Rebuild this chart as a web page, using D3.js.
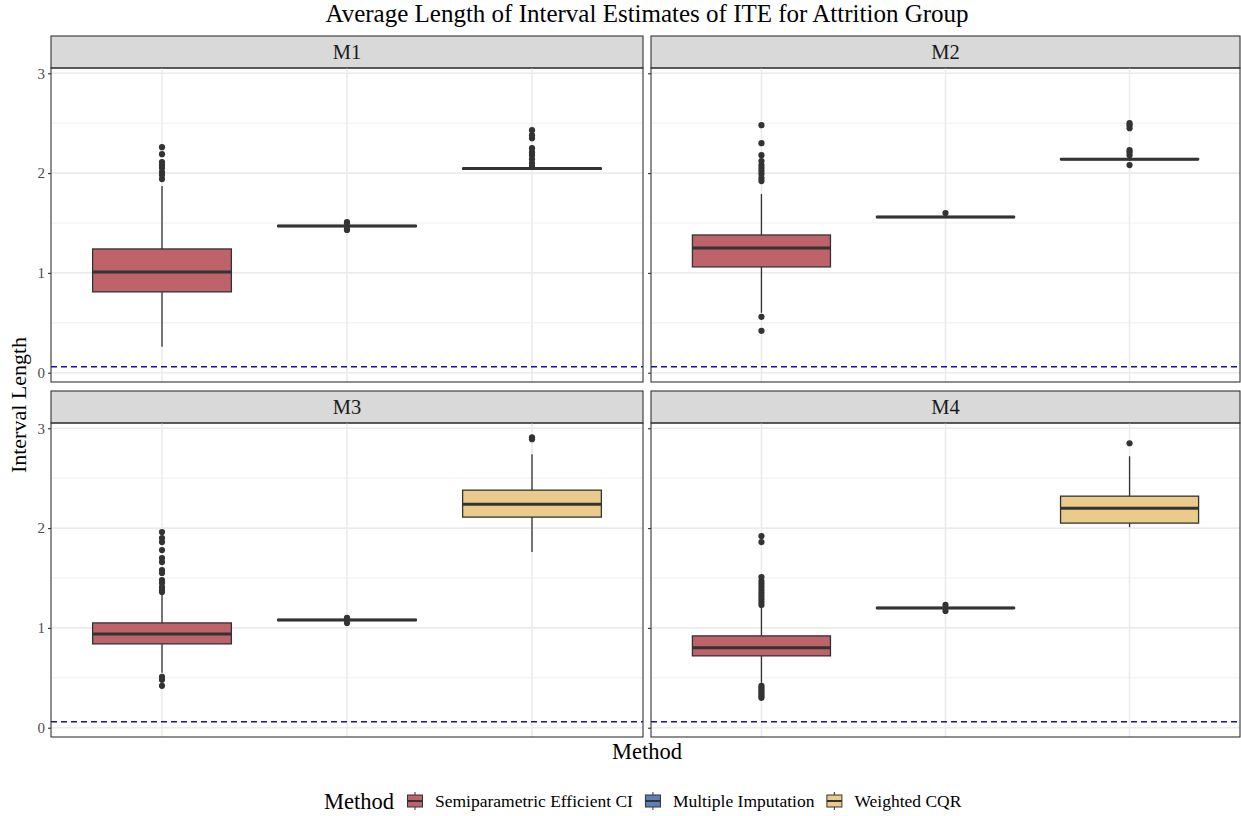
<!DOCTYPE html>
<html>
<head>
<meta charset="utf-8">
<title>Average Length of Interval Estimates</title>
<style>
  html, body { margin: 0; padding: 0; background: #fff; }
  svg { display: block; font-family: "Liberation Serif", "DejaVu Serif", serif; }
</style>
</head>
<body>
<svg id="chart" width="1241" height="816"></svg>
<script src="https://cdn.jsdelivr.net/npm/d3@7"></script>
<script>
// panels and methods
const panels = ["M1", "M2", "M3", "M4"];
const methods = ["Semiparametric Efficient CI", "Multiple Imputation", "Weighted CQR"];
const colors = ["#BF636B", "#5D80B8", "#EACB8B"];
const yTicks = [0, 1, 2, 3];
const refLine = 0.06;

// box stats per panel, one entry per method: [lowWhisker, q1, median, q3, highWhisker]
const statsM1 = [[0.26, 0.81, 1.01, 1.24, 1.87], [1.46, 1.465, 1.47, 1.475, 1.48], [2.03, 2.04, 2.045, 2.05, 2.06]];
const statsM2 = [[0.60, 1.06, 1.25, 1.38, 1.79], [1.55, 1.555, 1.56, 1.565, 1.57], [2.12, 2.135, 2.14, 2.145, 2.16]];
const statsM3 = [[0.55, 0.84, 0.94, 1.05, 1.34], [1.07, 1.075, 1.08, 1.085, 1.09], [1.76, 2.11, 2.24, 2.38, 2.74]];
const statsM4 = [[0.45, 0.72, 0.80, 0.92, 1.21], [1.19, 1.195, 1.20, 1.205, 1.21], [2.01, 2.05, 2.20, 2.32, 2.72]];

// outliers per panel, one list per method
const outM1 = [[1.94, 1.98, 2.01, 2.05, 2.08, 2.11, 2.19, 2.26],
               [1.43, 1.44, 1.50, 1.51],
               [2.07, 2.10, 2.14, 2.18, 2.21, 2.25, 2.35, 2.38, 2.43]];
const outM2 = [[0.42, 0.56, 1.92, 1.95, 1.99, 2.02, 2.05, 2.08, 2.12, 2.18, 2.30, 2.48],
               [1.60],
               [2.08, 2.18, 2.21, 2.23, 2.45, 2.48, 2.50]];
const outM3 = [[0.42, 0.48, 0.51, 1.36, 1.38, 1.41, 1.45, 1.48, 1.55, 1.58, 1.66, 1.70, 1.78, 1.86, 1.90, 1.96],
               [1.05, 1.10],
               [2.89, 2.91]];
const outM4 = [[0.30, 0.32, 0.34, 0.36, 0.38, 0.40, 0.42, 1.23, 1.26, 1.29, 1.32, 1.35, 1.38, 1.41, 1.44, 1.47, 1.51, 1.86, 1.92],
               [1.17, 1.23],
               [2.85]];

const allStats = [statsM1, statsM2, statsM3, statsM4];
const allOut = [outM1, outM2, outM3, outM4];

const svg = d3.select("#chart");
const W = 1241, H = 816;
svg.append("rect").attr("width", W).attr("height", H).attr("fill", "#fff");

// layout
const cols = [[51, 643], [651, 1240]];
const rows = [{strip: 36, top: 68, bottom: 382}, {strip: 391, top: 423, bottom: 737}];

const y = d3.scaleLinear().domain([-0.093, 3.053]);

svg.append("text")
  .attr("x", 647).attr("y", 22)
  .attr("text-anchor", "middle")
  .attr("font-size", 25)
  .attr("fill", "#000")
  .text("Average Length of Interval Estimates of ITE for Attrition Group");

panels.forEach((name, i) => {
  const c = cols[i % 2], r = rows[Math.floor(i / 2)];
  // discrete axis with 0.6 expansion on each side
  const pad = (c[1] - c[0]) * 0.6 / 3.2;
  const xs = d3.scalePoint().domain(methods).range([c[0] + pad, c[1] - pad]);
  const unit = (c[1] - c[0]) / 3.2;
  const bw = unit * 0.75;
  const ys = y.copy().range([r.bottom, r.top]);

  const g = svg.append("g");

  // strip
  g.append("rect")
    .attr("x", c[0]).attr("y", r.strip)
    .attr("width", c[1] - c[0]).attr("height", r.top - r.strip)
    .attr("fill", "#D9D9D9").attr("stroke", "#333").attr("stroke-width", 1.1);
  g.append("text")
    .attr("x", (c[0] + c[1]) / 2).attr("y", (r.strip + r.top) / 2 + 7)
    .attr("text-anchor", "middle").attr("font-size", 20.5).attr("fill", "#1A1A1A")
    .text(name);

  // grid
  const minor = [0.5, 1.5, 2.5];
  g.selectAll(".minor").data(minor).enter().append("line")
    .attr("x1", c[0]).attr("x2", c[1])
    .attr("y1", d => ys(d)).attr("y2", d => ys(d))
    .attr("stroke", "#EBEBEB").attr("stroke-width", 0.8);
  g.selectAll(".major").data(yTicks).enter().append("line")
    .attr("x1", c[0]).attr("x2", c[1])
    .attr("y1", d => ys(d)).attr("y2", d => ys(d))
    .attr("stroke", "#EBEBEB").attr("stroke-width", 1.6);
  g.selectAll(".vgrid").data(methods).enter().append("line")
    .attr("x1", d => xs(d)).attr("x2", d => xs(d))
    .attr("y1", r.top).attr("y2", r.bottom)
    .attr("stroke", "#EBEBEB").attr("stroke-width", 1.6);

  // reference line
  g.append("line")
    .attr("x1", c[0]).attr("x2", c[1])
    .attr("y1", ys(refLine)).attr("y2", ys(refLine))
    .attr("stroke", "#1010B0").attr("stroke-width", 1.3)
    .attr("stroke-dasharray", "6,4");

  // boxes
  const st = allStats[i];
  const boxes = g.selectAll(".box").data(methods).enter().append("g");
  boxes.append("line")
    .attr("x1", d => xs(d)).attr("x2", d => xs(d))
    .attr("y1", (d, k) => ys(st[k][3])).attr("y2", (d, k) => ys(st[k][4]))
    .attr("stroke", "#333").attr("stroke-width", 1.3);
  boxes.append("line")
    .attr("x1", d => xs(d)).attr("x2", d => xs(d))
    .attr("y1", (d, k) => ys(st[k][0])).attr("y2", (d, k) => ys(st[k][1]))
    .attr("stroke", "#333").attr("stroke-width", 1.3);
  boxes.append("rect")
    .attr("x", d => xs(d) - bw / 2).attr("width", bw)
    .attr("y", (d, k) => ys(st[k][3]))
    .attr("height", (d, k) => Math.max(0.01, ys(st[k][1]) - ys(st[k][3])))
    .attr("fill", (d, k) => colors[k])
    .attr("stroke", "#333").attr("stroke-width", 1.3);
  boxes.append("line")
    .attr("x1", d => xs(d) - bw / 2).attr("x2", d => xs(d) + bw / 2)
    .attr("y1", (d, k) => ys(st[k][2])).attr("y2", (d, k) => ys(st[k][2]))
    .attr("stroke", "#333").attr("stroke-width", 3);

  // outliers
  allOut[i].forEach((pts, k) => {
    g.selectAll(null).data(pts).enter().append("circle")
      .attr("cx", xs(methods[k])).attr("cy", d => ys(d))
      .attr("r", 3.1).attr("fill", "#333");
  });

  // panel border
  g.append("rect")
    .attr("x", c[0]).attr("y", r.top)
    .attr("width", c[1] - c[0]).attr("height", r.bottom - r.top)
    .attr("fill", "none").attr("stroke", "#333").attr("stroke-width", 1.1);

  // y axis
  const axis = d3.axisLeft(ys).tickValues(yTicks).tickSize(3).tickPadding(3)
    .tickFormat(i % 2 === 0 ? d3.format("d") : () => "");
  const ag = svg.append("g").attr("transform", `translate(${c[0]},0)`).call(axis);
  ag.select(".domain").remove();
  ag.selectAll(".tick line").attr("stroke", "#333").attr("stroke-width", 1.1);
  ag.selectAll(".tick text").attr("fill", "#4D4D4D").attr("font-size", 15)
    .attr("font-family", "Liberation Serif, DejaVu Serif, serif");
});

// axis titles
svg.append("text")
  .attr("x", 647).attr("y", 759)
  .attr("text-anchor", "middle").attr("font-size", 22.5)
  .text("Method");
svg.append("text")
  .attr("transform", "translate(26,405) rotate(-90)")
  .attr("text-anchor", "middle").attr("font-size", 22)
  .text("Interval Length");

// legend
const leg = svg.append("g").attr("transform", "translate(324,801)");
const lt = leg.append("text").attr("x", 0).attr("y", 7.5).attr("font-size", 22.5).text("Method");
let lx = lt.node().getComputedTextLength() + 12;
methods.forEach((m, k) => {
  const kg = leg.append("g").attr("transform", `translate(${lx},0)`);
  kg.append("line").attr("x1", 9).attr("x2", 9).attr("y1", -9).attr("y2", 9)
    .attr("stroke", "#333").attr("stroke-width", 1);
  kg.append("rect").attr("x", 1.5).attr("y", -6).attr("width", 15).attr("height", 12)
    .attr("fill", colors[k]).attr("stroke", "#333").attr("stroke-width", 1);
  kg.append("line").attr("x1", 1.5).attr("x2", 16.5).attr("y1", 0).attr("y2", 0)
    .attr("stroke", "#333").attr("stroke-width", 2);
  const t = kg.append("text").attr("x", 29).attr("y", 6).attr("font-size", 17.5).text(m);
  lx += 29 + t.node().getComputedTextLength() + 11;
});
</script>
</body>
</html>
